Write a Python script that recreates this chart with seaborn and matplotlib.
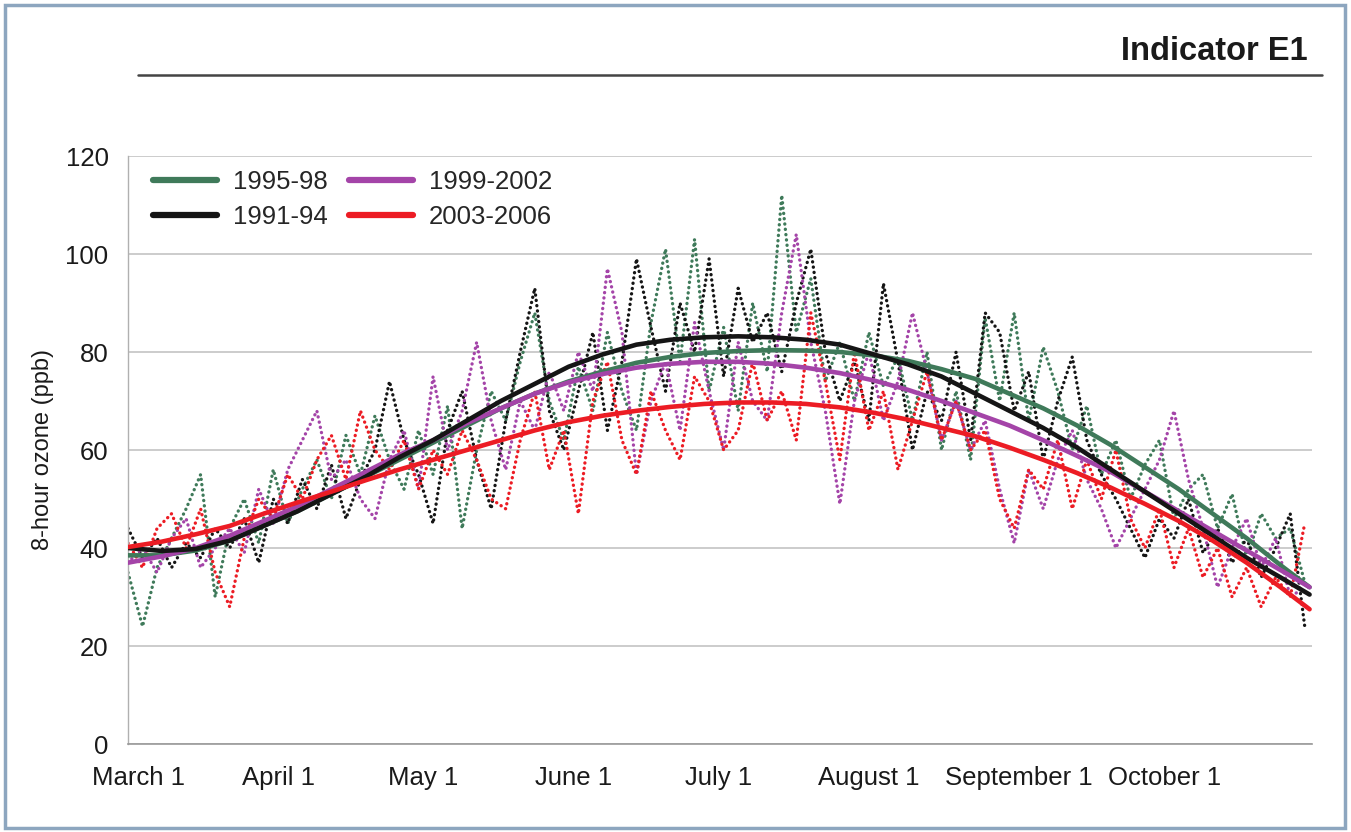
import numpy as np
import pandas as pd
import matplotlib
matplotlib.use("Agg")
import matplotlib.pyplot as plt
import matplotlib.transforms as mtransforms
from matplotlib.patches import Rectangle
from matplotlib.lines import Line2D
import seaborn as sns

# ---------------- data ----------------
series_names = ["1995-98", "1991-94", "1999-2002", "2003-2006"]
colors = {"1995-98": "#3f7a5a", "1991-94": "#151515",
          "1999-2002": "#a444a8", "2003-2006": "#ec1c24"}

# day index 0 = March 1; sampled every 3 days
daily_days = list(range(0, 244, 3))

green_daily = [35, 24, 36, 42, 48, 55, 30, 44, 50, 41, 56, 45, 52, 58, 50, 63, 55, 67, 58, 52,
               64, 55, 69, 44, 60, 72, 66, 78, 88, 70, 62, 77, 68, 84, 72, 64, 86, 101, 78, 103,
               72, 85, 68, 90, 76, 112, 84, 95, 74, 82, 70, 84, 73, 79, 66, 80, 60, 72, 58, 87,
               70, 88, 66, 81, 72, 60, 69, 55, 62, 50, 57, 62, 46, 52, 55, 44, 51, 38, 47, 42,
               44, 33]
black_daily = [44, 38, 42, 36, 41, 38, 44, 40, 46, 37, 50, 45, 54, 48, 57, 46, 54, 60, 74, 62,
               55, 45, 64, 72, 58, 48, 66, 80, 93, 68, 60, 72, 84, 64, 78, 99, 85, 72, 90, 80,
               99, 75, 93, 82, 88, 76, 90, 101, 80, 70, 78, 66, 94, 78, 60, 72, 66, 80, 62, 88,
               84, 68, 76, 58, 70, 79, 62, 55, 50, 44, 38, 46, 42, 50, 39, 44, 37, 42, 34, 40,
               47, 24]
purple_daily = [37, 40, 35, 42, 46, 36, 40, 44, 39, 52, 45, 56, 62, 68, 54, 58, 50, 46, 58, 64,
                52, 75, 60, 68, 82, 66, 56, 70, 64, 76, 68, 80, 72, 97, 84, 55, 70, 78, 64, 86,
                72, 60, 82, 70, 66, 88, 104, 82, 68, 49, 70, 80, 66, 74, 88, 76, 62, 70, 60, 66,
                52, 41, 56, 48, 58, 64, 54, 48, 40, 46, 52, 58, 68, 54, 44, 32, 40, 46, 36, 42,
                30, 32]
red_daily = [41, 36, 44, 47, 40, 48, 35, 28, 42, 50, 46, 55, 50, 58, 63, 54, 68, 60, 56, 62,
             52, 60, 55, 64, 58, 50, 48, 62, 72, 56, 64, 47, 70, 78, 62, 55, 72, 64, 58, 75,
             70, 60, 64, 78, 66, 72, 62, 88, 74, 58, 80, 64, 72, 56, 66, 76, 62, 70, 60, 64,
             50, 44, 56, 52, 62, 48, 58, 50, 60, 46, 40, 48, 36, 44, 34, 40, 30, 36, 28, 34,
             30, 45]

# smooth trend curves, weekly
trend_days = [0, 7, 14, 21, 28, 35, 42, 49, 56, 63, 70, 77, 84, 91, 98, 105, 112, 119, 126,
              133, 140, 147, 154, 161, 168, 175, 182, 189, 196, 203, 210, 217, 224, 231, 238, 244]
green_trend = [38.5, 38.5, 39.5, 41.5, 44.5, 47.5, 51, 54.5, 58, 61.5, 65, 68.5, 71.5, 74, 76,
               77.8, 79, 79.8, 80.2, 80.4, 80.3, 80, 79.3, 78.2, 76.5, 74.5, 71.5, 68.5, 65, 61,
               56.5, 52, 47, 42, 36.5, 32]
black_trend = [40, 39.4, 39.8, 41.5, 44.5, 47.5, 51, 54.5, 58.5, 62, 66, 70, 73.5, 77, 79.5,
               81.5, 82.5, 83, 83.2, 83, 82.5, 81.5, 79.5, 77.5, 75, 71.5, 68, 64.5, 60.5, 56,
               51.5, 47, 42.5, 38, 34, 30.5]
purple_trend = [37, 38.3, 40, 42.5, 45.5, 48.5, 52, 55.5, 59, 62, 65.5, 68.5, 71.5, 73.8, 75.5,
                76.8, 77.6, 78, 78, 77.6, 76.8, 75.7, 74.2, 72.3, 70, 67.5, 65, 62, 58.8, 55.5,
                51.5, 47.5, 43.5, 39.5, 35.5, 32]
red_trend = [40.2, 41.3, 42.8, 44.5, 47, 49.3, 51.5, 53.8, 56, 58, 60, 62, 64, 65.7, 67, 68,
             68.8, 69.4, 69.7, 69.7, 69.4, 68.7, 67.6, 66.2, 64.5, 62.8, 60.5, 58, 55.3, 52.3,
             49, 45.5, 41.5, 37, 32, 27.5]

tick_days = [0, 31, 61, 92, 122, 153, 184, 214]
tick_labels = ["March 1", "April 1", "May 1", "June 1", "July 1", "August 1",
               "September 1", "October 1"]

daily = {"1995-98": green_daily, "1991-94": black_daily,
         "1999-2002": purple_daily, "2003-2006": red_daily}
trend = {"1995-98": green_trend, "1991-94": black_trend,
         "1999-2002": purple_trend, "2003-2006": red_trend}

# ---------------- plot ----------------
sns.set_style("white")
plt.rcParams["font.family"] = ["Liberation Sans", "DejaVu Sans"]

W, H = 1351, 832
fig = plt.figure(figsize=(W / 100, H / 100), dpi=100)
ax = fig.add_axes([128 / W, 1 - 744 / H, (1312 - 128) / W, (744 - 156) / H])

# daily dotted series
for name in ["1995-98", "1991-94", "1999-2002", "2003-2006"]:
    df = pd.DataFrame({"day": daily_days, "ppb": daily[name]})
    sns.lineplot(data=df, x="day", y="ppb", ax=ax, color=colors[name],
                 linewidth=2.4, linestyle=(0, (0.05, 1.55)), zorder=2,
                 dash_capstyle="round", legend=False)

# trend curves
for name in ["1995-98", "1999-2002", "1991-94", "2003-2006"]:
    df = pd.DataFrame({"day": trend_days, "ppb": trend[name]})
    sns.lineplot(data=df, x="day", y="ppb", ax=ax, color=colors[name],
                 linewidth=3.3, zorder=3, solid_capstyle="round", legend=False)

ax.set_xlim(0, 244.5)
ax.set_ylim(0, 120)
ax.set_yticks(range(0, 121, 20))
ax.set_xticks(tick_days)
ax.set_xticklabels(tick_labels)
ax.tick_params(axis="x", labelsize=18.5, length=8, width=1, color="#888888",
               direction="out", pad=8, labelcolor="#1a1a1a")
ax.tick_params(axis="y", labelsize=18.5, length=0, pad=14, labelcolor="#1a1a1a")
# first label sits a little right of its tick in the reference
first = ax.get_xticklabels()[0]
first.set_transform(first.get_transform() +
                    mtransforms.ScaledTranslation(11 / 100, 0, fig.dpi_scale_trans))

ax.grid(axis="y", color="#c8c8c8", linewidth=1.3)
ax.set_axisbelow(True)
for s in ["top", "right"]:
    ax.spines[s].set_visible(False)
ax.spines["left"].set_color("#b0b0b0")
ax.spines["bottom"].set_color("#999999")
ax.spines["left"].set_linewidth(1)
ax.spines["bottom"].set_linewidth(1.2)
ax.set_xlabel("")
ax.set_ylabel("8-hour ozone (ppb)", fontsize=17, labelpad=8, color="#1a1a1a")

handles = [Line2D([], [], color=colors[n], linewidth=4.5, solid_capstyle="round")
           for n in series_names]
ax.legend(handles, series_names, ncol=2, loc="upper left", frameon=False,
          bbox_to_anchor=((153 - 128) / 1184, (744 - 170) / 588), borderpad=0,
          fontsize=18.5, handlelength=2.5, handletextpad=0.6, columnspacing=0.85,
          labelspacing=0.42, borderaxespad=0)

# header
fig.text(1308 / W, 1 - 51 / H, "Indicator E1", ha="right", va="center",
         fontsize=23.5, fontweight="bold", color="#1a1a1a")
fig.add_artist(Line2D([138 / W, 1322 / W], [1 - 75 / H, 1 - 75 / H],
                      color="#444444", linewidth=1.8, transform=fig.transFigure))
# frame
fig.add_artist(Rectangle((5 / W, 4 / H), 1340 / W, 1 - 9 / H, fill=False,
                         edgecolor="#8da6bf", linewidth=2.5, transform=fig.transFigure))

fig.savefig("out.png", dpi=100)
